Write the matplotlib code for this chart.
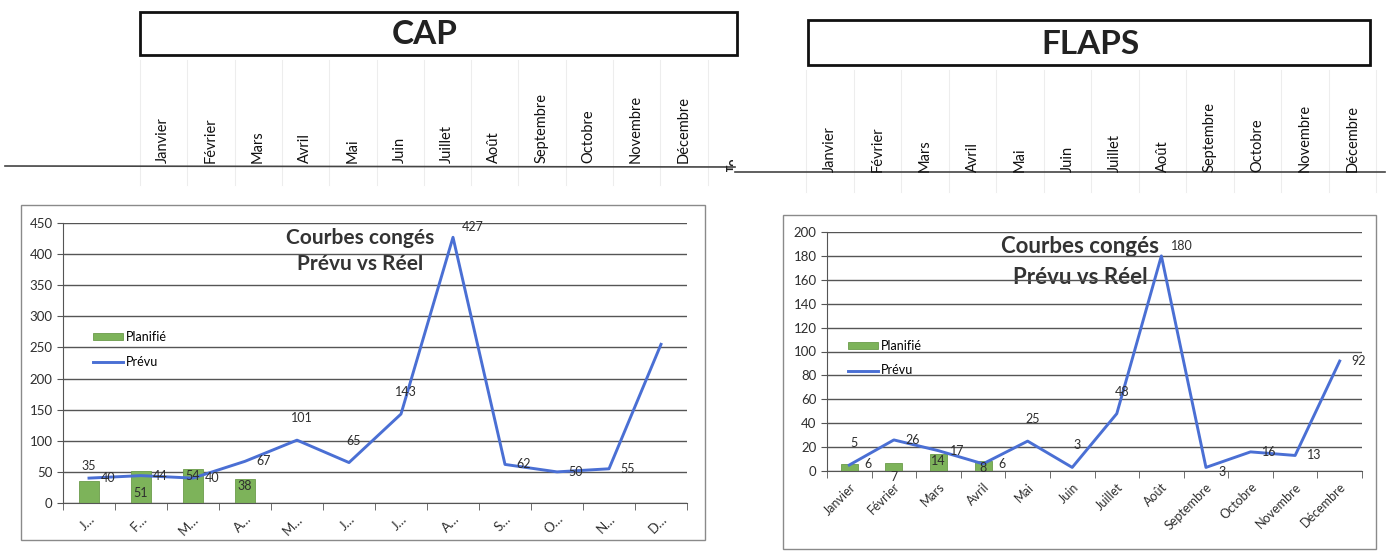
import matplotlib
matplotlib.use("Agg")
import matplotlib.pyplot as plt
from matplotlib.patches import Rectangle
import numpy as np

plt.rcParams['font.family'] = ['Lato', 'DejaVu Sans']

W, H = 1391, 553

months = ["Janvier", "Février", "Mars", "Avril", "Mai", "Juin", "Juillet", "Août",
          "Septembre", "Octobre", "Novembre", "Décembre"]
cap_ticks = ["J…", "F…", "M…", "A…", "M…", "J…", "J…", "A…", "S…", "O…", "N…", "D…"]

# CAP: planned (bars, first four months) and forecast (line)
cap_planifie = [35, 51, 54, 38]
cap_planifie_pos = ["t", "ib", "i", "i"]
cap_prevu = [40, 44, 40, 67, 101, 65, 143, 427, 62, 50, 55, 255]
cap_prevu_pos = ["r", "r", "r", "r", "a", "a", "a", "ar", "r", "r", "r", None]

# FLAPS
flaps_planifie = [6, 7, 14, 8]
flaps_planifie_pos = ["r", "b", "i", "i"]
flaps_prevu = [5, 26, 17, 6, 25, 3, 48, 180, 3, 16, 13, 92]
flaps_prevu_pos = ["a", "r", "r", "r", "a", "a", "a", "ar", "br", "r", "r", "r"]

# label offsets in pixels
OFF = {"r": (19, 0), "a": (5, 22), "ar": (20, 10), "b": (0, -14), "br": (16, -5),
       "i": (0, -7), "ib": (0, -22), "t": (0, 15)}

BAR_C = "#7db35a"
LINE_C = "#4a6fd4"
GRID_C = "#555555"
TXT_C = "#2e2e2e"


def px_axes(fig, x0, y0, x1, y1):
    # rectangle given in image pixels (y from top)
    return fig.add_axes([x0 / W, 1 - y1 / H, (x1 - x0) / W, (y1 - y0) / H])


def draw_chart(fig, rect, planifie, pl_pos, prevu, pv_pos, ticks, ymax, ystep,
               tick_fs, legend_xy):
    ax = px_axes(fig, *rect)
    x = np.arange(len(prevu))
    xb = np.arange(len(planifie))
    ax.set_axisbelow(True)
    bars = ax.bar(xb, planifie, width=0.38, color=BAR_C, edgecolor="#6b9c4a",
                  linewidth=0.6, label="Planifié", zorder=2)
    line, = ax.plot(x, prevu, color=LINE_C, lw=2.1, label="Prévu", zorder=3)

    for xi, v, p in zip(xb, planifie, pl_pos):
        ax.annotate(str(v), (xi, v), xytext=OFF[p], textcoords="offset pixels",
                    ha="center", va="center", fontsize=9, color=TXT_C, zorder=4)
    for xi, v, p in zip(x, prevu, pv_pos):
        if p is None:
            continue
        ax.annotate(str(v), (xi, v), xytext=OFF[p], textcoords="offset pixels",
                    ha="center", va="center", fontsize=9, color=TXT_C, zorder=4)

    ax.set_xlim(-0.5, len(prevu) - 0.5)
    ax.set_ylim(0, ymax)
    ax.set_yticks(np.arange(0, ymax + 1, ystep))
    ax.yaxis.grid(True, color=GRID_C, lw=1)
    ax.set_xticks(x)
    ax.set_xticklabels(ticks, rotation=45, ha="right", rotation_mode="anchor",
                       fontsize=tick_fs, color=TXT_C)
    ax.set_xticks(np.arange(-0.5, len(prevu), 1), minor=True)
    ax.tick_params(axis="x", which="major", length=0, pad=7)
    ax.tick_params(axis="x", which="minor", length=5, color=GRID_C, direction="out")
    ax.tick_params(axis="y", length=4, color=GRID_C, labelsize=9.5, labelcolor=TXT_C)
    for s in ("top", "right"):
        ax.spines[s].set_visible(False)
    for s in ("left", "bottom"):
        ax.spines[s].set_color(GRID_C)
    ax.set_facecolor("none")

    ax.legend([bars, line], ["Planifié", "Prévu"], loc="upper left",
              bbox_to_anchor=(legend_xy[0] / W, 1 - legend_xy[1] / H),
              bbox_transform=fig.transFigure, frameon=False, fontsize=9,
              handlelength=2.4, handleheight=0.45, handletextpad=0.2,
              labelspacing=1.0, borderpad=0, borderaxespad=0)
    return ax


fig = plt.figure(figsize=(W / 100, H / 100), dpi=100)
bg = fig.add_axes([0, 0, 1, 1])
bg.set_xlim(0, W)
bg.set_ylim(H, 0)
bg.axis("off")

# spreadsheet header: faint cell lines
for x0, n, step, top, bot in [(140, 12, 47.3, 60, 165), (806, 12, 47.5, 70, 172)]:
    for i in range(n + 1):
        xl = x0 + i * step
        bg.plot([xl, xl], [top, bot + 20], color="#ededed", lw=0.8, zorder=0)

# title boxes
bg.add_patch(Rectangle((140, 12), 597, 43, fill=False, ec="#111111", lw=2))
bg.text(425, 35, "CAP", ha="center", va="center", fontsize=24, fontweight="bold",
        color="#222222")
bg.add_patch(Rectangle((808, 20), 562, 45, fill=False, ec="#111111", lw=2))
bg.text(1090, 44, "FLAPS", ha="center", va="center", fontsize=24, fontweight="bold",
        color="#222222")

# month headers
for i, m in enumerate(months):
    bg.text(163 + 47.3 * i, 163, m, rotation=90, ha="center", va="bottom",
            fontsize=10.5, color="#111111")
    bg.text(830 + 47.5 * i, 172, m, rotation=90, ha="center", va="bottom",
            fontsize=10.5, color="#111111")
bg.plot([5, 735], [166, 167], color="#444444", lw=1.2)
bg.plot([735, 1385], [172, 172], color="#444444", lw=1.2)

# partly cut "Total" header
tax = px_axes(fig, 722, 160, 733, 172)
tax.axis("off")
tax.text(1.0, 0.0, "Total", rotation=90, ha="center", va="bottom", fontsize=9,
         fontweight="bold", color="#222222", transform=tax.transAxes, clip_on=True)

# chart frames
bg.add_patch(Rectangle((21, 205), 684, 335, fill=False, ec="#8a8a8a", lw=1))
bg.add_patch(Rectangle((783, 215), 593, 334, fill=False, ec="#8a8a8a", lw=1))

draw_chart(fig, (63, 223, 687, 503), cap_planifie, cap_planifie_pos, cap_prevu,
           cap_prevu_pos, cap_ticks, 450, 50, 9.5, (93, 331))
draw_chart(fig, (827, 232, 1362, 471), flaps_planifie, flaps_planifie_pos, flaps_prevu,
           flaps_prevu_pos, months, 200, 20, 9, (848, 340))

# chart titles
bg.text(360, 251, "Courbes congés\nPrévu vs Réel", ha="center", va="center",
        fontsize=15, fontweight="bold", color="#333333", linespacing=1.35, zorder=5)
bg.text(1080, 262, "Courbes congés\nPrévu vs Réel", ha="center", va="center",
        fontsize=16, fontweight="bold", color="#333333", linespacing=1.55, zorder=5)

fig.savefig("out.png", dpi=100)
